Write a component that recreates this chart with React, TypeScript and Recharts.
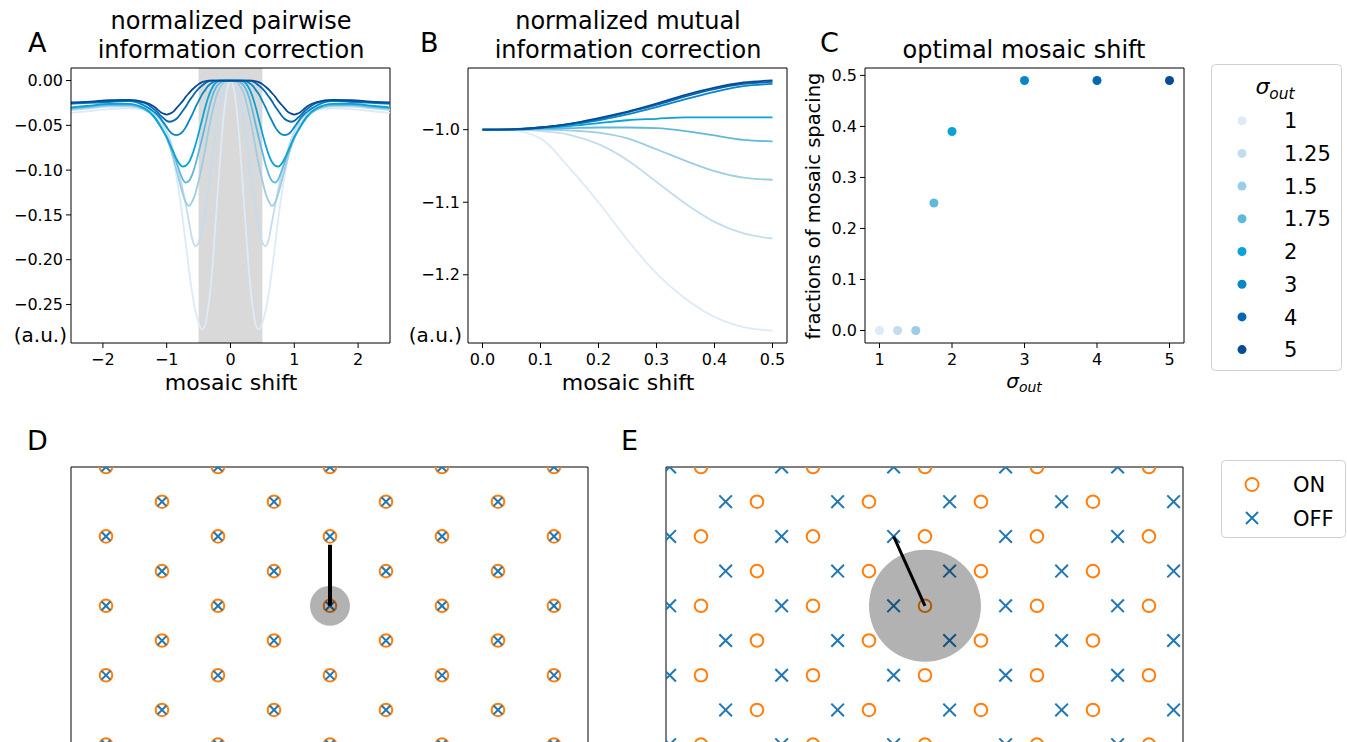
import React from 'react';
import {
  LineChart, Line, ScatterChart, Scatter, XAxis, YAxis,
  ReferenceArea, ReferenceLine, Cell,
} from 'recharts';

const FONT = '"DejaVu Sans", sans-serif';

// sigma_out values and their colours
const SIGMA_LABELS = ['1', '1.25', '1.5', '1.75', '2', '3', '4', '5'];
const SIGMA_VALUES = [1, 1.25, 1.5, 1.75, 2, 3, 4, 5];
const COLORS = ['#dcebf7', '#c3dcef', '#9bcde4', '#62b8dc', '#0aa3d8', '#0887c7', '#0667b3', '#084c96'];

// panel A: normalized pairwise information correction vs mosaic shift
const SHIFT_A = [
  -2.5, -2.2, -1.9, -1.6, -1.35, -1.2, -1.15, -1.1, -1.05, -1, -0.95, -0.9, -0.85, -0.8, -0.75,
  -0.7, -0.65, -0.6, -0.55, -0.5, -0.45, -0.4, -0.35, -0.3, -0.25, -0.2, -0.15, -0.1, -0.05, 0,
  0.05, 0.1, 0.15, 0.2, 0.25, 0.3, 0.35, 0.4, 0.45, 0.5, 0.55, 0.6, 0.65, 0.7, 0.75,
  0.8, 0.85, 0.9, 0.95, 1, 1.05, 1.1, 1.15, 1.2, 1.35, 1.6, 1.9, 2.2, 2.5,
];
const PAIR_1 = [
  -0.036, -0.034, -0.032, -0.031, -0.033, -0.040, -0.044, -0.049, -0.055, -0.063, -0.073, -0.087, -0.106, -0.128, -0.154,
  -0.183, -0.212, -0.237, -0.257, -0.270, -0.278, -0.274, -0.254, -0.222, -0.175, -0.124, -0.075, -0.035, -0.009, 0,
  -0.009, -0.035, -0.075, -0.124, -0.175, -0.222, -0.254, -0.274, -0.278, -0.270, -0.257, -0.237, -0.212, -0.183, -0.154,
  -0.128, -0.106, -0.087, -0.073, -0.063, -0.055, -0.049, -0.044, -0.040, -0.033, -0.031, -0.032, -0.034, -0.036,
];
const PAIR_125 = [
  -0.033, -0.031, -0.029, -0.029, -0.031, -0.037, -0.040, -0.044, -0.050, -0.057, -0.066, -0.077, -0.090, -0.105, -0.121,
  -0.139, -0.158, -0.177, -0.185, -0.181, -0.168, -0.148, -0.122, -0.095, -0.067, -0.042, -0.022, -0.008, -0.002, 0,
  -0.002, -0.008, -0.022, -0.042, -0.067, -0.095, -0.122, -0.148, -0.168, -0.181, -0.185, -0.177, -0.158, -0.139, -0.121,
  -0.105, -0.090, -0.077, -0.066, -0.057, -0.050, -0.044, -0.040, -0.037, -0.031, -0.029, -0.029, -0.031, -0.033,
];
const PAIR_15 = [
  -0.032, -0.030, -0.028, -0.028, -0.032, -0.040, -0.044, -0.049, -0.056, -0.065, -0.074, -0.086, -0.099, -0.113, -0.126,
  -0.136, -0.140, -0.135, -0.126, -0.112, -0.096, -0.078, -0.058, -0.040, -0.025, -0.013, -0.006, -0.002, -0.0005, 0,
  -0.0005, -0.002, -0.006, -0.013, -0.025, -0.040, -0.058, -0.078, -0.096, -0.112, -0.126, -0.135, -0.140, -0.136, -0.126,
  -0.113, -0.099, -0.086, -0.074, -0.065, -0.056, -0.049, -0.044, -0.040, -0.032, -0.028, -0.028, -0.030, -0.032,
];
const PAIR_175 = [
  -0.031, -0.029, -0.027, -0.027, -0.032, -0.041, -0.046, -0.051, -0.057, -0.064, -0.072, -0.081, -0.091, -0.101, -0.110,
  -0.114, -0.112, -0.105, -0.094, -0.080, -0.066, -0.051, -0.035, -0.021, -0.011, -0.005, -0.002, -0.0005, 0, 0,
  0, -0.0005, -0.002, -0.005, -0.011, -0.021, -0.035, -0.051, -0.066, -0.080, -0.094, -0.105, -0.112, -0.114, -0.110,
  -0.101, -0.091, -0.081, -0.072, -0.064, -0.057, -0.051, -0.046, -0.041, -0.032, -0.027, -0.027, -0.029, -0.031,
];
const PAIR_2 = [
  -0.030, -0.028, -0.026, -0.026, -0.031, -0.040, -0.045, -0.051, -0.057, -0.063, -0.071, -0.079, -0.087, -0.093, -0.096,
  -0.095, -0.091, -0.083, -0.072, -0.059, -0.045, -0.031, -0.019, -0.010, -0.004, -0.001, 0, 0, 0, 0,
  0, 0, 0, -0.001, -0.004, -0.010, -0.019, -0.031, -0.045, -0.059, -0.072, -0.083, -0.091, -0.095, -0.096,
  -0.093, -0.087, -0.079, -0.071, -0.063, -0.057, -0.051, -0.045, -0.040, -0.031, -0.026, -0.026, -0.028, -0.030,
];
const PAIR_3 = [
  -0.026, -0.025, -0.024, -0.023, -0.028, -0.035, -0.038, -0.042, -0.047, -0.052, -0.057, -0.060, -0.061, -0.060, -0.057,
  -0.052, -0.045, -0.038, -0.030, -0.023, -0.016, -0.011, -0.006, -0.003, -0.001, 0, 0, 0, 0, 0,
  0, 0, 0, 0, -0.001, -0.003, -0.006, -0.011, -0.016, -0.023, -0.030, -0.038, -0.045, -0.052, -0.057,
  -0.060, -0.061, -0.060, -0.057, -0.052, -0.047, -0.042, -0.038, -0.035, -0.028, -0.023, -0.024, -0.025, -0.026,
];
const PAIR_4 = [
  -0.025, -0.024, -0.023, -0.022, -0.025, -0.032, -0.035, -0.039, -0.042, -0.045, -0.046, -0.045, -0.043, -0.039, -0.034,
  -0.029, -0.023, -0.018, -0.013, -0.009, -0.006, -0.003, -0.001, 0, 0, 0, 0, 0, 0, 0,
  0, 0, 0, 0, 0, 0, -0.001, -0.003, -0.006, -0.009, -0.013, -0.018, -0.023, -0.029, -0.034,
  -0.039, -0.043, -0.045, -0.046, -0.045, -0.042, -0.039, -0.035, -0.032, -0.025, -0.022, -0.023, -0.024, -0.025,
];
const PAIR_5 = [
  -0.0245, -0.0235, -0.022, -0.0215, -0.024, -0.029, -0.032, -0.035, -0.037, -0.038, -0.037, -0.035, -0.031, -0.027, -0.023,
  -0.018, -0.014, -0.010, -0.007, -0.004, -0.002, -0.001, 0, 0, 0, 0, 0, 0, 0, 0,
  0, 0, 0, 0, 0, 0, 0, -0.001, -0.002, -0.004, -0.007, -0.010, -0.014, -0.018, -0.023,
  -0.027, -0.031, -0.035, -0.037, -0.038, -0.037, -0.035, -0.032, -0.029, -0.024, -0.0215, -0.022, -0.0235, -0.0245,
];
const PAIR_CURVES = [PAIR_1, PAIR_125, PAIR_15, PAIR_175, PAIR_2, PAIR_3, PAIR_4, PAIR_5];
const A_X_TICKS = [-2, -1, 0, 1, 2];
const A_Y_TICKS = [0, -0.05, -0.1, -0.15, -0.2, -0.25];

// panel B: normalized mutual information correction
const SHIFT_B = [0, 0.05, 0.1, 0.15, 0.2, 0.25, 0.3, 0.35, 0.4, 0.45, 0.5];
const MUTUAL_1 = [-1.0, -1.001, -1.012, -1.053, -1.100, -1.152, -1.198, -1.233, -1.258, -1.272, -1.277];
const MUTUAL_125 = [-1.0, -1.0, -1.002, -1.007, -1.020, -1.042, -1.072, -1.102, -1.127, -1.143, -1.150];
const MUTUAL_15 = [-1.0, -1.0, -1.0, -1.001, -1.004, -1.012, -1.027, -1.043, -1.057, -1.066, -1.069];
const MUTUAL_175 = [-1.0, -1.0, -0.999, -0.998, -0.997, -0.997, -0.998, -1.002, -1.008, -1.014, -1.016];
const MUTUAL_2 = [-1.0, -1.0, -0.998, -0.995, -0.991, -0.987, -0.985, -0.983, -0.983, -0.983, -0.983];
const MUTUAL_3 = [-1.0, -0.9995, -0.997, -0.993, -0.987, -0.979, -0.969, -0.958, -0.948, -0.940, -0.937];
const MUTUAL_4 = [-1.0, -0.9995, -0.997, -0.992, -0.985, -0.976, -0.966, -0.954, -0.944, -0.937, -0.934];
const MUTUAL_5 = [-1.0, -0.9995, -0.997, -0.992, -0.984, -0.975, -0.964, -0.952, -0.942, -0.935, -0.932];
const MUTUAL_CURVES = [MUTUAL_1, MUTUAL_125, MUTUAL_15, MUTUAL_175, MUTUAL_2, MUTUAL_3, MUTUAL_4, MUTUAL_5];
const B_X_TICKS = [0, 0.1, 0.2, 0.3, 0.4, 0.5];
const B_Y_TICKS = [-1.0, -1.1, -1.2];

// panel C: optimal mosaic shift per sigma_out
const OPT_SHIFT = [0, 0, 0, 0.25, 0.39, 0.49, 0.49, 0.49];
const C_X_TICKS = [1, 2, 3, 4, 5];
const C_Y_TICKS = [0, 0.1, 0.2, 0.3, 0.4, 0.5];

// panels D/E: mosaic lattices (x in mosaic spacings, y in rows)
const ROWS_EVEN = [-4, -2, 0, 2, 4];
const ROWS_ODD = [-3, -1, 1, 3];
const ON_COLS_EVEN = [0, 1, 2, 3, 4];
const ON_COLS_ODD = [0.5, 1.5, 2.5, 3.5];
const OFF_COLS_EVEN_E = [-0.28, 0.72, 1.72, 2.72, 3.72];
const OFF_COLS_ODD_E = [0.22, 1.22, 2.22, 3.22, 4.22];
const CENTER = [{ x: 2, y: 0 }];
const LINK_D = [{ x: 2, y: 0 }, { x: 2, y: 1.76 }];
const LINK_E = [{ x: 2, y: 0 }, { x: 1.72, y: 2 }];

const lattice = (colsEven: number[], colsOdd: number[]) => [
  ...ROWS_EVEN.flatMap((y) => colsEven.map((x) => ({ x, y }))),
  ...ROWS_ODD.flatMap((y) => colsOdd.map((x) => ({ x, y }))),
];
const D_ON = lattice(ON_COLS_EVEN, ON_COLS_ODD);
const D_OFF = lattice(ON_COLS_EVEN, ON_COLS_ODD);
const E_ON = lattice(ON_COLS_EVEN, ON_COLS_ODD);
const E_OFF = lattice(OFF_COLS_EVEN_E, OFF_COLS_ODD_E);

const tableA = SHIFT_A.map((x, i) => {
  const row: any = { x };
  PAIR_CURVES.forEach((c, k) => { row['s' + k] = c[i]; });
  return row;
});
const tableB = SHIFT_B.map((x, i) => {
  const row: any = { x };
  MUTUAL_CURVES.forEach((c, k) => { row['s' + k] = c[i]; });
  return row;
});
const tableC = SIGMA_VALUES.map((x, i) => ({ x, y: OPT_SHIFT[i] }));

const fmt = (d: number) => (v: number) => v.toFixed(d).replace('-', '\u2212');
const tickStyle = { fill: '#000', fontSize: 16, fontFamily: FONT };
const black = { stroke: '#000', strokeWidth: 1 };
const axisCommon = { tick: tickStyle, axisLine: black, tickLine: black, tickSize: 5, interval: 0 as const };

const OnMarker = (p: any) => (
  <circle cx={p.cx} cy={p.cy} r={6.3} fill="none" stroke="#ff7f0e" strokeWidth={2} />
);
const offMarker = (h: number) => (p: any) => (
  <path
    d={`M${p.cx - h},${p.cy - h}L${p.cx + h},${p.cy + h}M${p.cx - h},${p.cy + h}L${p.cx + h},${p.cy - h}`}
    stroke="#1f77b4" strokeWidth={2} fill="none"
  />
);
const shade = (r: number) => (p: any) => <circle cx={p.cx} cy={p.cy} r={r} fill="#000" fillOpacity={0.3} />;
const noShape = () => <g />;

const PanelA = () => (
  <div style={{ position: 'absolute', left: 0, top: 0 }}>
    <LineChart width={400} height={400} data={tableA} margin={{ top: 68, right: 10, bottom: 27, left: 0 }}>
      <ReferenceArea x1={-0.5} x2={0.5} fill="#d9d9d9" fillOpacity={1} stroke="none" />
      <XAxis type="number" dataKey="x" domain={[-2.5, 2.5]} allowDataOverflow ticks={A_X_TICKS}
        tickFormatter={fmt(0)} height={30} tickMargin={6} {...axisCommon} />
      <YAxis type="number" domain={[-0.293, 0.014]} allowDataOverflow ticks={A_Y_TICKS}
        tickFormatter={fmt(2)} width={71} tickMargin={3} {...axisCommon} />
      <ReferenceLine y={0.014} stroke="#000" />
      <ReferenceLine x={2.5} stroke="#000" />
      {PAIR_CURVES.map((_, k) => (
        <Line key={k} dataKey={'s' + k} type="monotone" stroke={COLORS[k]} strokeWidth={1.8}
          dot={false} isAnimationActive={false} />
      ))}
    </LineChart>
  </div>
);

const PanelB = () => (
  <div style={{ position: 'absolute', left: 400, top: 0 }}>
    <LineChart width={400} height={400} data={tableB} margin={{ top: 68, right: 13, bottom: 27, left: 0 }}>
      <XAxis type="number" dataKey="x" domain={[-0.025, 0.525]} allowDataOverflow ticks={B_X_TICKS}
        tickFormatter={fmt(1)} height={30} tickMargin={6} {...axisCommon} />
      <YAxis type="number" domain={[-1.294, -0.915]} allowDataOverflow ticks={B_Y_TICKS}
        tickFormatter={fmt(1)} width={68} tickMargin={3} {...axisCommon} />
      <ReferenceLine y={-0.915} stroke="#000" />
      <ReferenceLine x={0.525} stroke="#000" />
      {MUTUAL_CURVES.map((_, k) => (
        <Line key={k} dataKey={'s' + k} type="monotone" stroke={COLORS[k]} strokeWidth={1.8}
          dot={false} isAnimationActive={false} />
      ))}
    </LineChart>
  </div>
);

const PanelC = () => (
  <div style={{ position: 'absolute', left: 790, top: 0 }}>
    <ScatterChart width={400} height={400} margin={{ top: 68, right: 6, bottom: 27, left: 0 }}>
      <XAxis type="number" dataKey="x" domain={[0.8, 5.2]} allowDataOverflow ticks={C_X_TICKS}
        tickFormatter={fmt(0)} height={30} tickMargin={6} {...axisCommon} />
      <YAxis type="number" dataKey="y" domain={[-0.0245, 0.5145]} allowDataOverflow ticks={C_Y_TICKS}
        tickFormatter={fmt(1)} width={75} tickMargin={3} {...axisCommon} />
      <ReferenceLine y={0.5145} stroke="#000" />
      <ReferenceLine x={5.2} stroke="#000" />
      <Scatter data={tableC} isAnimationActive={false}>
        {tableC.map((_, i) => <Cell key={i} fill={COLORS[i]} />)}
      </Scatter>
    </ScatterChart>
  </div>
);

const Mosaic = ({ left, on, off, xSize, shadeR, link, linkW }: any) => (
  <div style={{ position: 'absolute', left, top: 400 }}>
    <ScatterChart width={600} height={400} margin={{ top: 67, right: 12, bottom: 38, left: 71 }}>
      <XAxis type="number" dataKey="x" domain={[-0.3125, 4.304]} allowDataOverflow hide />
      <YAxis type="number" dataKey="y" domain={[-4.5, 4.0]} allowDataOverflow hide />
      <ReferenceLine x={-0.3125} stroke="#000" />
      <ReferenceLine x={4.304} stroke="#000" />
      <ReferenceLine y={4.0} stroke="#000" />
      <Scatter data={on} shape={OnMarker} isAnimationActive={false} />
      <Scatter data={off} shape={offMarker(xSize)} isAnimationActive={false} />
      <Scatter data={CENTER} shape={shade(shadeR)} isAnimationActive={false} />
      <Scatter data={link} shape={noShape} line={{ stroke: '#000', strokeWidth: linkW }} lineType="joint"
        isAnimationActive={false} />
    </ScatterChart>
  </div>
);

const Sigma = ({ x, y, size, anchor = 'middle' }: any) => (
  <text x={x} y={y} fontSize={size} textAnchor={anchor} fontStyle="italic">
    σ<tspan fontSize={size * 0.7} dy={size * 0.22}>out</tspan>
  </text>
);

const Overlay = () => (
  <svg width={1347} height={742} style={{ position: 'absolute', left: 0, top: 0, pointerEvents: 'none' }}
    fontFamily={FONT} fill="#000">
    <text x={28} y={52} fontSize={27}>A</text>
    <text x={420} y={52} fontSize={27}>B</text>
    <text x={820} y={52} fontSize={27}>C</text>
    <text x={27} y={450} fontSize={27}>D</text>
    <text x={621} y={450} fontSize={27}>E</text>

    <text x={231} y={29} fontSize={24} textAnchor="middle">normalized pairwise</text>
    <text x={231} y={58} fontSize={24} textAnchor="middle">information correction</text>
    <text x={628} y={29} fontSize={24} textAnchor="middle">normalized mutual</text>
    <text x={628} y={58} fontSize={24} textAnchor="middle">information correction</text>
    <text x={1024} y={58} fontSize={24} textAnchor="middle">optimal mosaic shift</text>

    <text x={231} y={390} fontSize={22} textAnchor="middle">mosaic shift</text>
    <text x={628} y={390} fontSize={22} textAnchor="middle">mosaic shift</text>
    <Sigma x={1024} y={388} size={20} />
    <text x={67} y={342} fontSize={20} textAnchor="end">(a.u.)</text>
    <text x={462} y={342} fontSize={20} textAnchor="end">(a.u.)</text>
    <text transform="translate(813,206) rotate(-90)" fontSize={19.5} textAnchor="middle" dominantBaseline="central">
      fractions of mosaic spacing
    </text>

    <rect x={1211.5} y={64.5} width={130} height={306} rx={4} fill="#fff" stroke="#d0d0d0" />
    <Sigma x={1275} y={94} size={22} />
    {SIGMA_LABELS.map((s, i) => (
      <g key={s}>
        <circle cx={1242} cy={120.7 + i * 32.7} r={4.5} fill={COLORS[i]} />
        <text x={1284} y={120.7 + i * 32.7 + 7.6} fontSize={21}>{s}</text>
      </g>
    ))}

    <rect x={1221.5} y={460.5} width={124} height={77} rx={4} fill="#fff" stroke="#d0d0d0" />
    <circle cx={1252} cy={484.5} r={6.5} fill="none" stroke="#ff7f0e" strokeWidth={2} />
    <text x={1293} y={492} fontSize={21}>ON</text>
    <path d="M1246,512L1258,524M1246,524L1258,512" stroke="#1f77b4" strokeWidth={2} />
    <text x={1293} y={526} fontSize={21}>OFF</text>
  </svg>
);

export default function App() {
  return (
    <div style={{ position: 'fixed', left: 0, top: 0, width: 1347, height: 742, overflow: 'hidden',
      background: '#fff', fontFamily: FONT }}>
      <PanelA />
      <PanelB />
      <PanelC />
      <Mosaic left={0} on={D_ON} off={D_OFF} xSize={4.4} shadeR={20} link={LINK_D} linkW={4} />
      <Mosaic left={595} on={E_ON} off={E_OFF} xSize={6.3} shadeR={56} link={LINK_E} linkW={3} />
      <Overlay />
    </div>
  );
}
